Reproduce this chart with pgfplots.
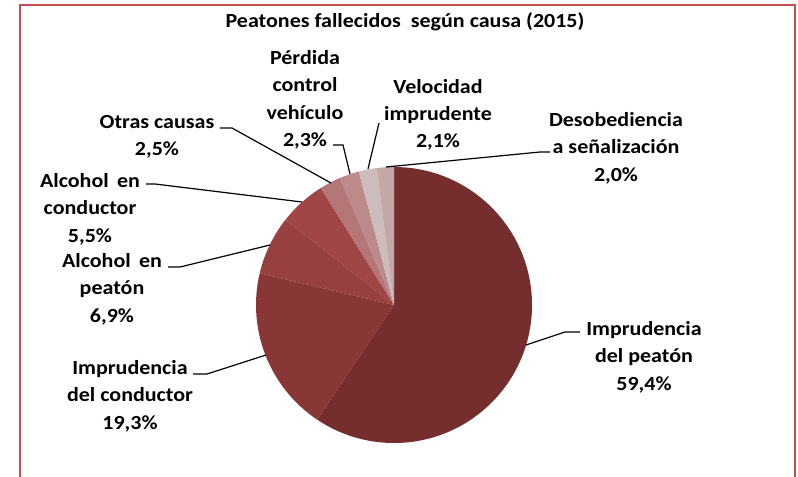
\documentclass[border=0pt]{standalone}
\usepackage{pgfplots}
\pgfplotsset{compat=1.18}
\usepackage{pgfplotstable}
\usepackage{fontspec}
\setmainfont{Carlito}[FakeStretch=1.1]

\definecolor{framered}{RGB}{192,80,77}
\definecolor{slice0}{RGB}{117,45,45}
\definecolor{slice1}{RGB}{137,54,54}
\definecolor{slice2}{RGB}{150,64,64}
\definecolor{slice3}{RGB}{160,70,70}
\definecolor{slice4}{RGB}{180,118,118}
\definecolor{slice5}{RGB}{188,138,138}
\definecolor{slice6}{RGB}{204,188,188}
\definecolor{slice7}{RGB}{196,168,168}

% share of pedestrian deaths by cause, clockwise from 12 o'clock
\pgfplotstableread[col sep=comma]{
value
59.4
19.3
6.9
5.5
2.5
2.3
2.1
2.0
}\piedata

% build the slices (centre 394,171 in axis units, radius 138 units = 103.5pt)
\def\pieslices{}
\xdef\cumang{90}
\pgfplotstableforeachcolumnelement{value}\of\piedata\as\v{%
  \pgfmathsetmacro\nextang{\cumang-3.6*\v}%
  \xdef\pieslices{\unexpanded\expandafter{\pieslices}%
    \noexpand\fill[slice\pgfplotstablerow] (axis cs:394,171) -- ++(\cumang:103.5pt)
      arc[start angle=\cumang, end angle=\nextang, radius=103.5pt] -- cycle;}%
  \xdef\cumang{\nextang}%
}

\tikzset{
  lbl/.style={font=\fontsize{15}{20.5}\selectfont\bfseries, align=center, inner sep=0pt},
  leader/.style={black, line width=0.9pt},
}

\begin{document}
\begin{tikzpicture}
\begin{axis}[
  x=0.75pt, y=0.75pt,
  xmin=0, xmax=798, ymin=0, ymax=476,
  hide axis, clip=false,
]
\pieslices

% frame
\draw[framered, line width=1.6pt] (axis cs:20,-10) -- (axis cs:20,471) -- (axis cs:795,471) -- (axis cs:795,-10);

\node[lbl] at (axis cs:405,454) {Peatones fallecidos~ según causa (2015)};

\node[lbl] at (axis cs:644,119) {Imprudencia\\del peatón\\59,4\%};
\node[lbl] at (axis cs:130,80)  {Imprudencia\\del conductor\\19,3\%};
\node[lbl] at (axis cs:112,187) {Alcohol\,\ en\\peatón\\6,9\%};
\node[lbl] at (axis cs:90,267)  {Alcohol\,\ en\\conductor\\5,5\%};
\node[lbl] at (axis cs:157,339) {Otras causas\\2,5\%};
\node[lbl] at (axis cs:305,376) {Pérdida\\control\\vehículo\\2,3\%};
\node[lbl] at (axis cs:438,361) {Velocidad\\imprudente\\2,1\%};
\node[lbl] at (axis cs:616,328) {Desobediencia\\a señalización\\2,0\%};

% leader lines
\draw[leader] (axis cs:526,131) -- (axis cs:565,144) -- (axis cs:580,144);
\draw[leader] (axis cs:266,121) -- (axis cs:207,102) -- (axis cs:193,102);
\draw[leader] (axis cs:270,231) -- (axis cs:180,209) -- (axis cs:168,209);
\draw[leader] (axis cs:302,274) -- (axis cs:155,292) -- (axis cs:146,292);
\draw[leader] (axis cs:331,293) -- (axis cs:232,348) -- (axis cs:220,348);
\draw[leader] (axis cs:350,302) -- (axis cs:343,331) -- (axis cs:333,331);
\draw[leader] (axis cs:368,307) -- (axis cs:379,353);
\draw[leader] (axis cs:386,309) -- (axis cs:540,324) -- (axis cs:550,324);
\end{axis}
\pgfresetboundingbox
\useasboundingbox (0,0) rectangle (598.5pt,357pt);
\end{tikzpicture}
\end{document}
